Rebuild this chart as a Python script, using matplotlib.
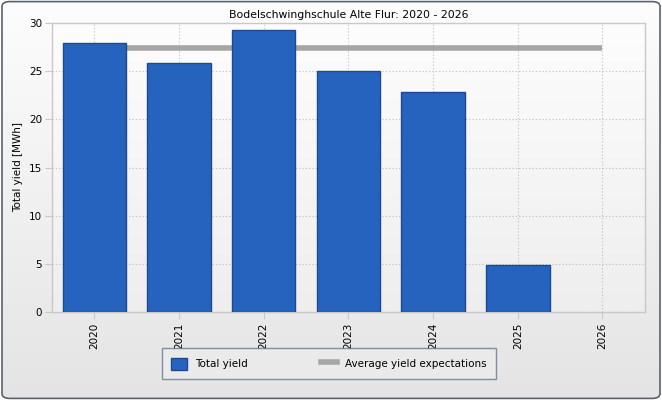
import matplotlib
matplotlib.use("Agg")
import matplotlib.pyplot as plt
import numpy as np
from matplotlib.patches import FancyBboxPatch, Patch
from matplotlib.lines import Line2D
from matplotlib.colors import LinearSegmentedColormap

years = ["2020", "2021", "2022", "2023", "2024", "2025", "2026"]
total_yield = [27.9, 25.8, 29.3, 25.0, 22.8, 4.9, np.nan]  # no value yet for 2026
avg_expectation = [27.4, 27.4, 27.4, 27.4, 27.4, 27.4, 27.4]

title = "Bodelschwinghschule Alte Flur: 2020 - 2026"

fig = plt.figure(figsize=(6.62, 4.0), dpi=100)
fig.patch.set_facecolor("white")

# outer rounded frame with soft gradient
bg = fig.add_axes([0, 0, 1, 1], zorder=-10)
bg.set_axis_off()
grad = np.linspace(1.0, 0.0, 256).reshape(-1, 1)
im = bg.imshow(grad, extent=[0, 1, 0, 1], aspect="auto",
               cmap=LinearSegmentedColormap.from_list("g", ["#e4e4e4", "#fdfdfd"]), vmin=0, vmax=1)
frame = FancyBboxPatch((0.003, 0.004), 0.994, 0.992, boxstyle="round,pad=0,rounding_size=0.012",
                       transform=bg.transAxes, facecolor="none", edgecolor="#59626c", linewidth=1.2)
bg.add_patch(frame)
im.set_clip_path(frame)
bg.set_xlim(0, 1)
bg.set_ylim(0, 1)

ax = fig.add_axes([0.0785, 0.22, 0.8955, 0.7225])
ax.set_facecolor("none")
x = np.arange(len(years))

# plot area gradient
ax.imshow(np.linspace(1, 0, 256).reshape(-1, 1), extent=[-0.5, len(years) - 0.5, 0, 30], aspect="auto",
          cmap=LinearSegmentedColormap.from_list("p", ["#eeeeee", "#fdfdfd"]),
          vmin=0, vmax=1, zorder=0)

ax.bar(x, total_yield, width=0.75, color="#2563be", edgecolor="#1d4a8f", linewidth=1, zorder=3)
ax.plot(x, avg_expectation, color="#a6a6a6", linewidth=4, solid_capstyle="butt", zorder=2)

ax.set_xlim(-0.5, len(years) - 0.5)
ax.set_ylim(0, 30)
ax.set_yticks([0, 5, 10, 15, 20, 25, 30])
ax.set_xticks(x)
ax.set_xticklabels(years, rotation=90, fontsize=7.5)
ax.tick_params(axis="y", labelsize=7.5, length=5, color="#c8c8c8", pad=2)
ax.tick_params(axis="x", length=5, color="#c8c8c8", pad=3)
ax.grid(True, linestyle=(0, (1, 2)), color="#bdbdbd", linewidth=0.8, zorder=1)
for s in ax.spines.values():
    s.set_color("#c8c8c8")
    s.set_linewidth(1)

ax.set_ylabel("Total yield [MWh]", fontsize=7.5, labelpad=4)
fig.text(0.527, 0.962, title, ha="center", va="center", fontsize=7.8)

handles = [Patch(facecolor="#2563be", edgecolor="#1d4a8f", label="Total yield"),
           Line2D([0], [0], color="#a6a6a6", linewidth=4, label="Average yield expectations")]
leg = fig.legend(handles=handles, loc="center", bbox_to_anchor=(0.497, 0.091), ncol=2,
                 fontsize=7.5, frameon=True, fancybox=False, columnspacing=7,
                 handlelength=1.5, handleheight=1.4, borderpad=0.9)
leg.get_frame().set_edgecolor("#66788a")
leg.get_frame().set_facecolor("#ececec")
leg.get_frame().set_linewidth(1)

fig.savefig("out.png", dpi=100)
